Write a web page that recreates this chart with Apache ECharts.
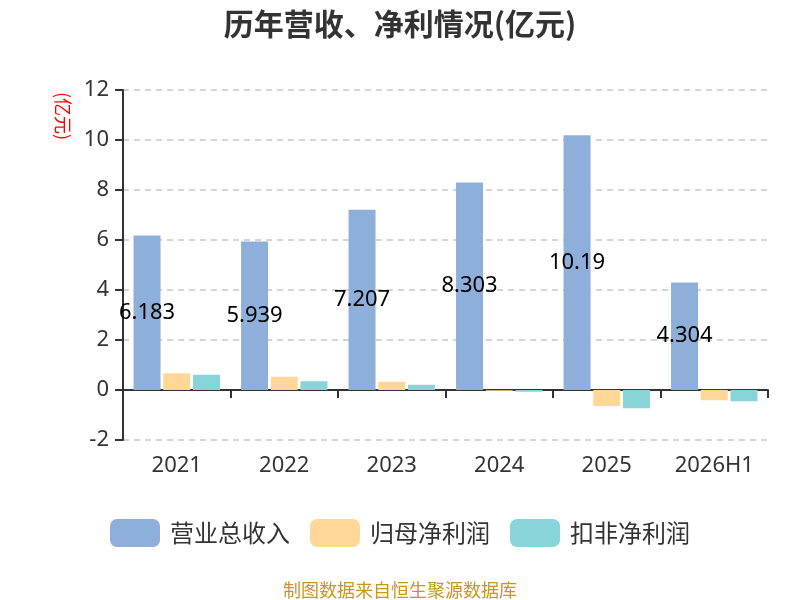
<!DOCTYPE html>
<html>
<head>
<meta charset="utf-8">
<script src="https://cdn.jsdelivr.net/npm/echarts@6/dist/echarts.min.js"></script>
<style>
  html, body { margin: 0; padding: 0; background: #fff; }
  #chart { width: 800px; height: 600px; }
</style>
</head>
<body>
<div id="chart"></div>
<script>
// 데이터
const years = ["2021", "2022", "2023", "2024", "2025", "2026H1"];
const revenue = [6.183, 5.939, 7.207, 8.303, 10.19, 4.304];
const netProfit = [0.67, 0.53, 0.33, -0.03, -0.64, -0.41];
const deductedProfit = [0.61, 0.35, 0.21, -0.07, -0.73, -0.45];
const yTicks = { min: -2, max: 12, interval: 2 };

const fontFamily = "'Noto Sans', 'Noto Sans CJK SC', sans-serif";
const cjkFont = "'Noto Sans CJK SC', 'Noto Sans', sans-serif";

const chart = echarts.init(document.getElementById("chart"));

chart.setOption({
    backgroundColor: "#ffffff",
    textStyle: { fontFamily: fontFamily },
    title: [
        {
            text: "历年营收、净利情况(亿元)",
            left: "center",
            top: 4,
            textStyle: { fontSize: 30, fontWeight: "bold", color: "#333333", fontFamily: cjkFont }
        },
        {
            text: "制图数据来自恒生聚源数据库",
            left: "center",
            top: 576,
            textStyle: { fontSize: 18, fontWeight: "normal", color: "#c8961e", fontFamily: cjkFont }
        }
    ],
    graphic: [{
        type: "text",
        x: 63,
        y: 92,
        rotation: -Math.PI / 2,
        style: {
            text: "(亿元)",
            fill: "#ff0000",
            font: "18px " + cjkFont,
            textAlign: "left",
            textVerticalAlign: "middle"
        }
    }],
    legend: {
        bottom: 48,
        left: "center",
        itemWidth: 50,
        itemHeight: 28,
        itemGap: 20,
        icon: "roundRect",
        textStyle: { fontSize: 24, color: "#333333", fontFamily: cjkFont, padding: [0, 0, 0, 5] },
        data: ["营业总收入", "归母净利润", "扣非净利润"]
    },
    grid: {
        left: 123,
        right: 32,
        top: 90,
        bottom: 160
    },
    xAxis: [
        {
            type: "category",
            data: years,
            axisLine: { onZero: true, lineStyle: { color: "#333333", width: 2 } },
            axisTick: { show: true, length: 8, lineStyle: { color: "#333333", width: 2 } },
            axisLabel: { show: false }
        },
        {
            type: "category",
            data: years,
            position: "bottom",
            axisLine: { show: false, onZero: false },
            axisTick: { show: false },
            axisLabel: { fontSize: 22, color: "#333333", margin: 15, fontFamily: fontFamily }
        }
    ],
    yAxis: {
        type: "value",
        min: yTicks.min,
        max: yTicks.max,
        interval: yTicks.interval,
        axisLine: { show: true, lineStyle: { color: "#333333", width: 2 } },
        axisTick: { show: true, length: 8, lineStyle: { color: "#333333", width: 2 } },
        axisLabel: { fontSize: 22, color: "#333333", margin: 14, fontFamily: fontFamily },
        splitLine: { lineStyle: { color: "#c8c8c8", type: [6, 5], width: 1.5 } }
    },
    series: [
        {
            name: "营业总收入",
            type: "bar",
            data: revenue,
            barWidth: 27,
            barGap: "10%",
            itemStyle: { color: "#8fafdb" },
            label: {
                show: true,
                position: "inside",
                color: "#000000",
                fontSize: 22,
                fontFamily: fontFamily
            }
        },
        {
            name: "归母净利润",
            type: "bar",
            data: netProfit,
            barWidth: 27,
            barGap: "10%",
            itemStyle: { color: "#ffd899" }
        },
        {
            name: "扣非净利润",
            type: "bar",
            data: deductedProfit,
            barWidth: 27,
            barGap: "10%",
            itemStyle: { color: "#88d5d9" }
        }
    ]
});
</script>
</body>
</html>
